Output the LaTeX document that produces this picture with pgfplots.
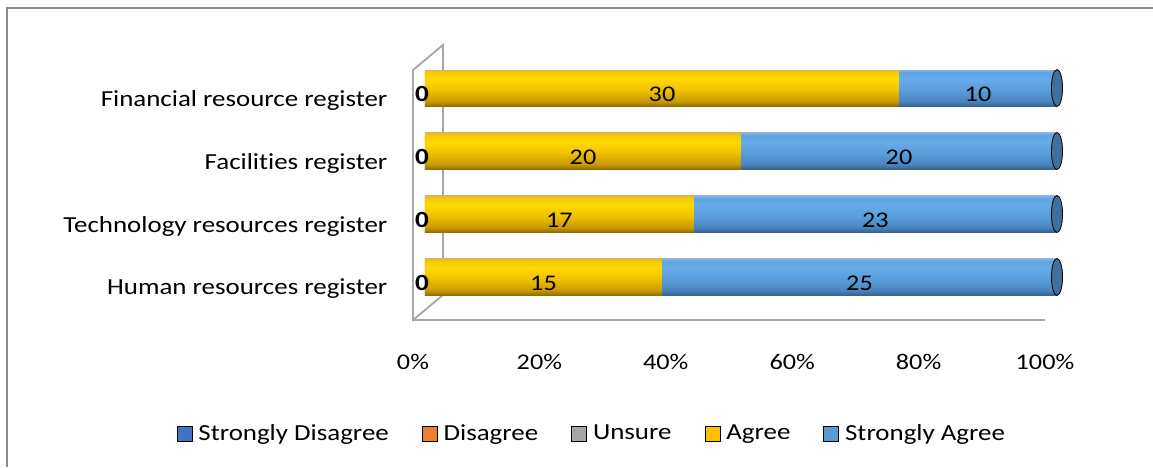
\documentclass[border=0pt]{standalone}
\usepackage{pgfplots}
\pgfplotsset{compat=1.18}
\usepackage{fontspec}
\setmainfont{Carlito}[FakeStretch=1.17, Ligatures=NoCommon]

\definecolor{sdcol}{HTML}{4472C4}
\definecolor{dcol}{HTML}{ED7D31}
\definecolor{ucol}{HTML}{A5A5A5}
\definecolor{agcol}{HTML}{FFC000}
\definecolor{sacol}{HTML}{5B9BD5}
\definecolor{framecol}{HTML}{8C8C8C}
\definecolor{wallcol}{HTML}{A6A6A6}
\definecolor{capblue}{HTML}{41709C}

\definecolor{yb}{HTML}{8F6A00}
\definecolor{ydk}{HTML}{C99A00}
\definecolor{ymid}{HTML}{F2C200}
\definecolor{ylt}{HTML}{FFD800}
\definecolor{ymidb}{HTML}{F7CB00}
\definecolor{yedge}{HTML}{D9B64A}
\definecolor{bb}{HTML}{34628D}
\definecolor{bdk}{HTML}{4A85BD}
\definecolor{bmid}{HTML}{5A9EDC}
\definecolor{blt}{HTML}{66ABEA}
\definecolor{bmidb}{HTML}{5EA3E2}
\definecolor{bedge}{HTML}{8DB5D8}

\pgfdeclareverticalshading{cylY}{100bp}{color(0bp)=(yb); color(25bp)=(yb); color(32bp)=(ydk); color(48bp)=(ymid); color(62bp)=(ylt); color(71bp)=(ymidb); color(75bp)=(yedge); color(100bp)=(yedge)}
\pgfdeclareverticalshading{cylB}{100bp}{color(0bp)=(bb); color(25bp)=(bb); color(32bp)=(bdk); color(48bp)=(bmid); color(62bp)=(blt); color(71bp)=(bmidb); color(75bp)=(bedge); color(100bp)=(bedge)}

\pgfplotsset{
  cylbar/.style={xbar, bar shift=0pt, bar width=18.5pt, draw=none, forget plot},
  lab/.style={only marks, mark=*, mark size=0pt, mark options={draw=none, fill=none},
    forget plot, point meta=explicit symbolic, nodes near coords,
    every node near coord/.append style={anchor=center, text=black, yshift=-3pt,
      font=\fontsize{11.2}{13}\selectfont}},
}

\begin{document}
\begin{tikzpicture}
\useasboundingbox (0,0) rectangle (576.5pt,233.5pt);
% outer frame (left and top)
\draw[framecol, line width=1pt] (3.5pt,0pt) -- (3.5pt,229.5pt) -- (576.5pt,229.5pt);
% 3D walls
\draw[wallcol, line width=0.9pt] (206.5pt,73.5pt) -- (206.5pt,198.5pt) -- (221.5pt,211pt) -- (221.5pt,86pt) -- cycle;
\draw[wallcol, line width=0.9pt] (206.5pt,73.5pt) -- (522.5pt,73.5pt);
\begin{axis}[
  at={(212.5pt,73.5pt)}, anchor=south west,
  scale only axis, width=316pt, height=125pt,
  xmin=0, xmax=100, ymin=-0.683, ymax=3.286,
  axis line style={draw=none}, tick style={draw=none},
  xtick={0,20,40,60,80,100},
  xticklabels={0\%,20\%,40\%,60\%,80\%,100\%},
  xticklabel style={anchor=center, yshift=-21pt, xshift=-6pt, font=\fontsize{11.2}{13}\selectfont},
  ytick={0,1,2,3},
  yticklabels={Human resources register, Technology resources register, Facilities register, Financial resource register},
  yticklabel style={xshift=-15.3pt, yshift=-6pt, font=\fontsize{11.5}{13}\selectfont},
  legend columns=5,
  legend style={at={(0.2655,-0.456)}, anchor=center, draw=none, fill=none,
    font=\fontsize{11.5}{13}\selectfont,
    /tikz/every odd column/.append style={column sep=1pt},
    /tikz/every even column/.append style={column sep=14.5pt}},
  legend image code/.code={\fill[#1] (0pt,-3.75pt) rectangle (7.5pt,3.75pt);},
]
% Strongly Agree + Agree = 100 %: blue cylinders (full length), yellow Agree part on top
% Agree share (%) = Agree/40*100 ; Strongly Agree share = rest
\addplot[cylbar, shading=cylB] coordinates {(100,0)}; % Human: 15 / 25
\addplot[cylbar, shading=cylB] coordinates {(100,1)}; % Technology: 17 / 23
\addplot[cylbar, shading=cylB] coordinates {(100,2)}; % Facilities: 20 / 20
\addplot[cylbar, shading=cylB] coordinates {(100,3)}; % Financial: 30 / 10
\addplot[cylbar, shading=cylY] coordinates {(37.5,0)};
\addplot[cylbar, shading=cylY] coordinates {(42.5,1)};
\addplot[cylbar, shading=cylY] coordinates {(50,2)};
\addplot[cylbar, shading=cylY] coordinates {(75,3)};
% cylinder end caps at 100 %
\addplot[only marks, forget plot, mark=*, mark size=9.25pt,
  mark options={xscale=0.3, fill=capblue, draw=none}]
  coordinates {(100,0) (100,1) (100,2) (100,3)};
% data labels: Agree (centre of its segment)
\addplot[lab] coordinates {(18.75,0) [15] (21.25,1) [17] (25,2) [20] (37.5,3) [30]};
% data labels: Strongly Agree
\addplot[lab] coordinates {(68.75,0) [25] (71.25,1) [23] (75,2) [20] (87.5,3) [10]};
% data labels: Strongly Disagree, Disagree, Unsure (all 0)
\addplot[lab, every node near coord/.append style={xshift=-1.5pt, font=\fontsize{11.6}{13}\selectfont\bfseries}]
  coordinates {(0,0) [0] (0,1) [0] (0,2) [0] (0,3) [0]};
\addlegendimage{fill=sdcol}\addlegendentry{Strongly Disagree}
\addlegendimage{fill=dcol}\addlegendentry{Disagree}
\addlegendimage{fill=ucol}\addlegendentry{Unsure}
\addlegendimage{fill=agcol}\addlegendentry{Agree}
\addlegendimage{fill=sacol}\addlegendentry{Strongly Agree}
\end{axis}
\end{tikzpicture}
\end{document}
